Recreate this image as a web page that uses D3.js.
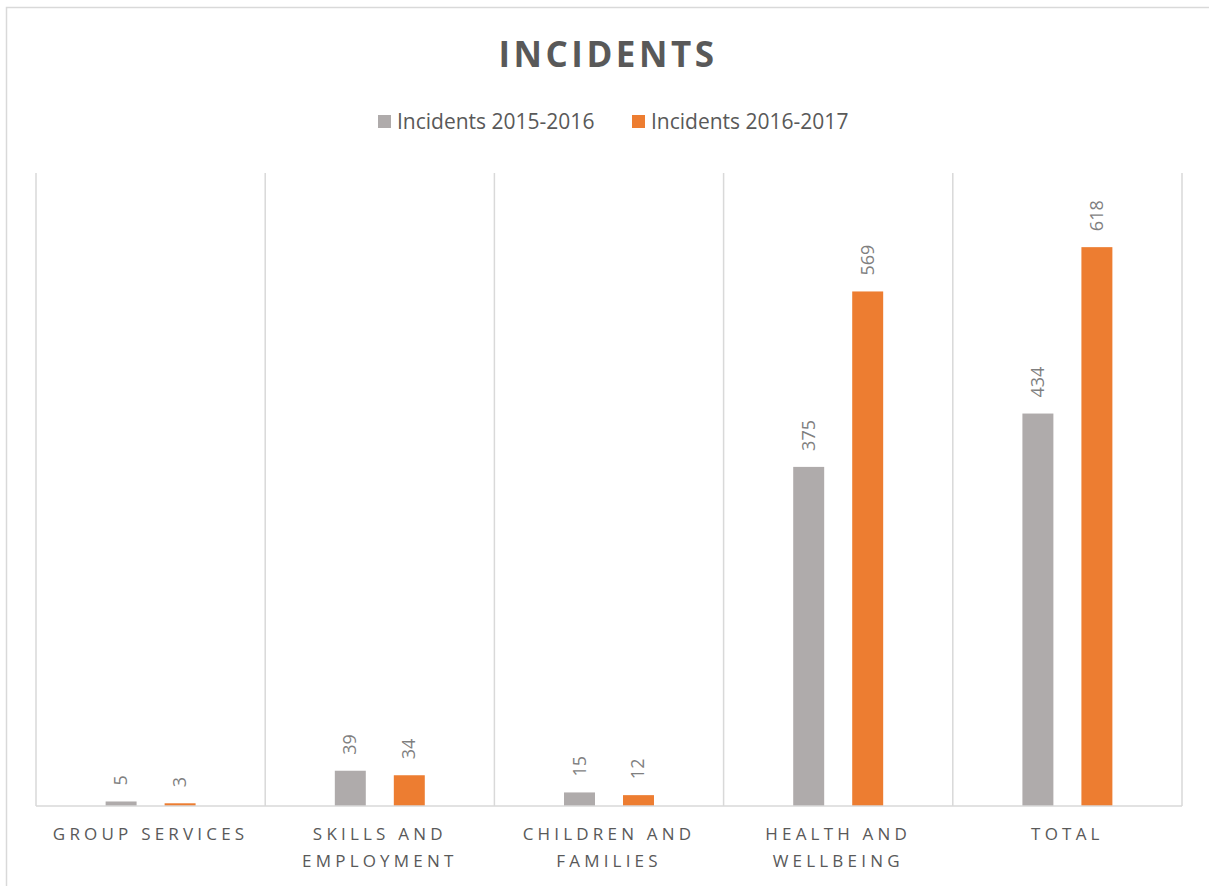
<!DOCTYPE html>
<html>
<head>
<meta charset="utf-8">
<script src="https://cdn.jsdelivr.net/npm/d3@7"></script>
<style>
  html, body { margin: 0; padding: 0; background: #fff; }
  svg { display: block; }
</style>
</head>
<body>
<script>
const categories = ["GROUP SERVICES", "SKILLS AND EMPLOYMENT", "CHILDREN AND FAMILIES", "HEALTH AND WELLBEING", "TOTAL"];
const seriesNames = ["Incidents 2015-2016", "Incidents 2016-2017"];
const values2015 = [5, 39, 15, 375, 434];
const values2016 = [3, 34, 12, 569, 618];
const seriesColors = ["#AFABAB", "#ED7D31"];
const yDomain = [0, 700];

const W = 1209, H = 886;
const font = "'Open Sans', 'Noto Sans', sans-serif";

const svg = d3.select("body").append("svg").attr("width", W).attr("height", H);

// outer chart border
svg.append("rect").attr("x", 6.5).attr("y", 7.5).attr("width", 1230).attr("height", 900)
  .attr("fill", "#fff").attr("stroke", "#D9D9D9").attr("stroke-width", 1.5);

const plot = { left: 36, right: 1182, top: 173, bottom: 806 };

const x0 = d3.scaleBand().domain(categories).range([plot.left, plot.right]).padding(0);
const x1 = d3.scaleBand().domain(seriesNames).range([0, x0.bandwidth()]).paddingInner(0.475).paddingOuter(1.18);
const y = d3.scaleLinear().domain(yDomain).range([plot.bottom, plot.top]);

// title
svg.append("text").attr("x", 608).attr("y", 67).attr("text-anchor", "middle")
  .attr("font-family", font).attr("font-weight", 700).attr("font-size", 35)
  .attr("letter-spacing", 3.5).attr("fill", "#595959").text("INCIDENTS");

// legend
const legendItems = [{ x: 378, name: seriesNames[0], c: seriesColors[0] }, { x: 632, name: seriesNames[1], c: seriesColors[1] }];
legendItems.forEach(it => {
  svg.append("rect").attr("x", it.x).attr("y", 115).attr("width", 13).attr("height", 13).attr("fill", it.c);
  svg.append("text").attr("x", it.x + 19).attr("y", 129).attr("font-family", font).attr("font-size", 21)
    .attr("fill", "#595959").text(it.name);
});

// vertical gridlines at category boundaries
const bounds = categories.map(c => x0(c)).concat([plot.right]);
svg.append("g").selectAll("line").data(bounds).join("line")
  .attr("x1", d => d).attr("x2", d => d).attr("y1", plot.top).attr("y2", plot.bottom)
  .attr("stroke", "#D9D9D9").attr("stroke-width", 1.5);

// bars
const data = categories.map((c, i) => ({ cat: c, vals: [values2015[i], values2016[i]] }));
const groups = svg.append("g").selectAll("g").data(data).join("g")
  .attr("transform", d => `translate(${x0(d.cat)},0)`);

groups.selectAll("rect").data(d => d.vals.map((v, j) => ({ v, s: seriesNames[j], c: seriesColors[j] })))
  .join("rect")
  .attr("x", d => x1(d.s)).attr("width", x1.bandwidth())
  .attr("y", d => y(d.v)).attr("height", d => y(0) - y(d.v))
  .attr("fill", d => d.c);

groups.selectAll("text").data(d => d.vals.map((v, j) => ({ v, s: seriesNames[j] })))
  .join("text")
  .attr("transform", d => `translate(${x1(d.s) + x1.bandwidth() / 2 + 6},${y(d.v) - 16}) rotate(-90)`)
  .attr("font-family", font).attr("font-size", 18).attr("fill", "#7F7F7F")
  .attr("text-anchor", "start").text(d => d.v);

// baseline
svg.append("line").attr("x1", plot.left).attr("x2", plot.right).attr("y1", plot.bottom).attr("y2", plot.bottom)
  .attr("stroke", "#D9D9D9").attr("stroke-width", 1.5);

// category labels (wrapped)
const labG = svg.append("g");
categories.forEach(c => {
  const cx = x0(c) + x0.bandwidth() / 2;
  const t = labG.append("text").attr("x", cx).attr("y", 840).attr("text-anchor", "middle")
    .attr("font-family", font).attr("font-size", 17).attr("letter-spacing", 4.2).attr("fill", "#595959");
  const words = c.split(" ");
  let line = [];
  let lineNo = 0;
  let ts = t.append("tspan").attr("x", cx).attr("y", 840);
  words.forEach(w => {
    line.push(w);
    ts.text(line.join(" "));
    if (ts.node().getComputedTextLength() > 215 && line.length > 1) {
      line.pop();
      ts.text(line.join(" "));
      line = [w];
      lineNo++;
      ts = t.append("tspan").attr("x", cx).attr("y", 840 + lineNo * 27).text(w);
    }
  });
});
</script>
</body>
</html>
